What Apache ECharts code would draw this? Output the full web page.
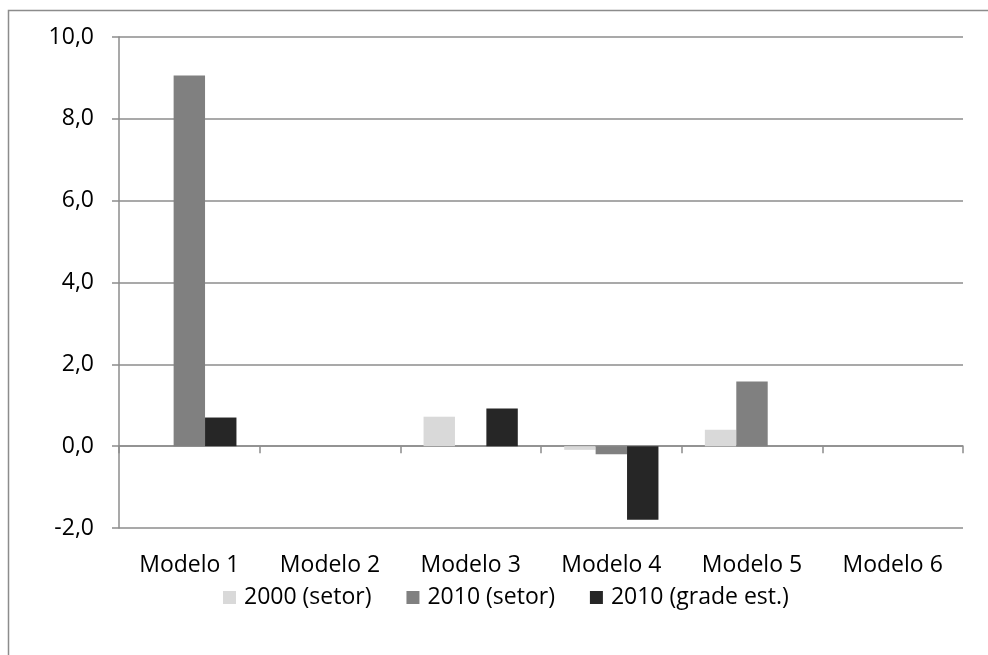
<!DOCTYPE html>
<html>
<head>
<meta charset="utf-8">
<script src="https://cdn.jsdelivr.net/npm/echarts@6/dist/echarts.min.js"></script>
<style>
  html, body { margin: 0; padding: 0; background: #fff; }
  #chart { width: 988px; height: 655px; }
</style>
</head>
<body>
<div id="chart"></div>
<script>
// Category labels and series values
const categories = ['Modelo 1', 'Modelo 2', 'Modelo 3', 'Modelo 4', 'Modelo 5', 'Modelo 6'];
const setor2000 = [0, 0, 0.72, -0.09, 0.40, 0];
const setor2010 = [9.06, 0, 0, -0.20, 1.58, 0];
const grade2010 = [0.70, 0, 0.92, -1.80, 0, 0];
const seriesNames = ['2000 (setor)', '2010 (setor)', '2010 (grade est.)'];
const seriesColors = ['#d9d9d9', '#808080', '#262626'];

const FONT = 'Open Sans';
const FONT_SIZE = 23;
const AXIS_COLOR = '#8c8c8c';

const chart = echarts.init(document.getElementById('chart'), null, { renderer: 'canvas' });

const option = {
  backgroundColor: '#ffffff',
  animation: false,
  textStyle: { fontFamily: FONT },
  graphic: [{
    type: 'rect',
    shape: { x: 8.5, y: 10.5, width: 1100, height: 800 },
    style: { fill: 'none', stroke: '#8c8c8c', lineWidth: 1.5 },
    silent: true
  }],
  legend: {
    top: 581,
    left: 218,
    itemWidth: 13,
    itemHeight: 13,
    itemGap: 35,
    icon: 'rect',
    textStyle: { fontFamily: FONT, fontSize: FONT_SIZE, color: '#000', padding: [0, 0, 0, 3] },
    data: seriesNames
  },
  grid: { left: 119, right: 25, top: 37, bottom: 127, containLabel: false },
  xAxis: [{
    type: 'category',
    data: categories,
    axisLine: { onZero: true, lineStyle: { color: AXIS_COLOR, width: 1.5 } },
    axisTick: { show: true, length: 7, lineStyle: { color: AXIS_COLOR, width: 1.5 } },
    axisLabel: { show: false }
  }, {
    type: 'category',
    data: categories,
    position: 'bottom',
    axisLine: { show: false, onZero: false },
    axisTick: { show: false },
    axisLabel: { margin: 26, fontFamily: FONT, fontSize: FONT_SIZE, color: '#000' }
  }],
  yAxis: {
    type: 'value',
    min: -2,
    max: 10,
    interval: 2,
    axisLine: { show: true, lineStyle: { color: AXIS_COLOR, width: 1.5 } },
    axisTick: { show: true, inside: false, length: 7, lineStyle: { color: AXIS_COLOR, width: 1.5 } },
    splitLine: { show: true, lineStyle: { color: AXIS_COLOR, width: 1.5 } },
    axisLabel: {
      margin: 25,
      fontFamily: FONT,
      fontSize: FONT_SIZE,
      color: '#000',
      formatter: v => v.toFixed(1).replace('.', ',')
    }
  },
  series: [setor2000, setor2010, grade2010].map((vals, i) => ({
    name: seriesNames[i],
    type: 'bar',
    xAxisIndex: 0,
    data: vals,
    barGap: '0%',
    barCategoryGap: '33%',
    itemStyle: { color: seriesColors[i] }
  }))
};

chart.setOption(option);
</script>
</body>
</html>
